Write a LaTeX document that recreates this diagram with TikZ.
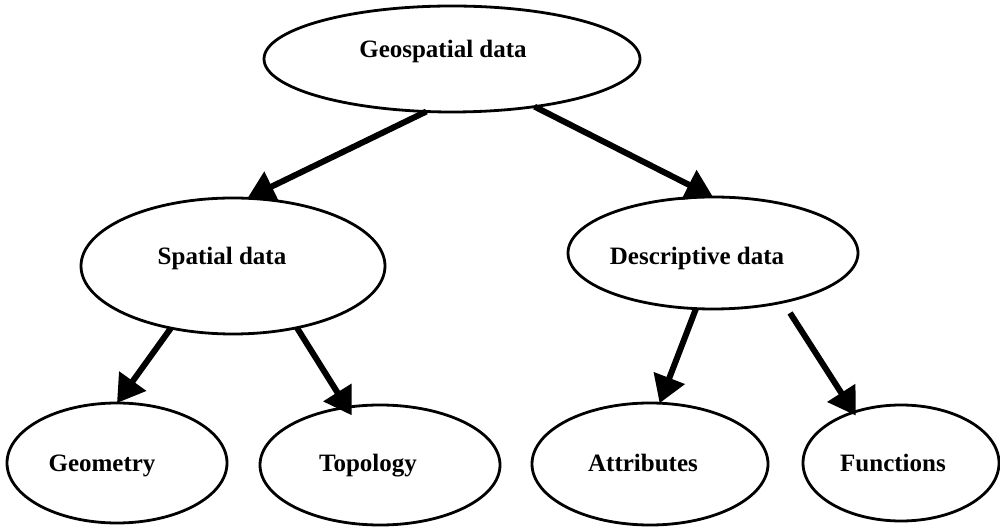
\documentclass[tikz,border=0pt]{standalone}
\usepackage{fontspec}
\setmainfont{Liberation Serif}
\usetikzlibrary{shapes.geometric,arrows.meta}
\begin{document}
\begin{tikzpicture}[x=0.5pt,y=-0.5pt,
  blob/.style={ellipse, draw, line width=1.4pt, inner sep=0pt, outer sep=0pt},
  lbl/.style={font=\fontsize{12.5}{15}\selectfont\bfseries, inner sep=0pt, anchor=base},
  link/.style={line width=3pt, -{Triangle[length=13.5pt,width=16pt]}}]
\useasboundingbox (0,0) rectangle (1000,528);

% ellipses of the hierarchy
\node[blob, minimum width=188pt, minimum height=53pt] (geo)     at (452,59)  {};
\node[blob, minimum width=152pt, minimum height=68pt] (spatial) at (233,266) {};
\node[blob, minimum width=145pt, minimum height=56pt] (desc)    at (713,253) {};
\node[blob, minimum width=110pt, minimum height=60pt] (geom)    at (117,463) {};
\node[blob, minimum width=120pt, minimum height=60pt] (topo)    at (380,465) {};
\node[blob, minimum width=118pt, minimum height=61pt] (attr)    at (650,464) {};
\node[blob, minimum width=98pt,  minimum height=58pt] (func)    at (901,463) {};

% labels
\node[lbl] (geo-t)     at (443,58)  {Geospatial data};
\node[lbl] (spatial-t) at (222,265) {Spatial data};
\node[lbl] (desc-t)    at (697,265) {Descriptive data};
\node[lbl] (geom-t)    at (102,472) {Geometry};
\node[lbl] (topo-t)    at (368,472) {Topology};
\node[lbl] (attr-t)    at (643,472) {Attributes};
\node[lbl] (func-t)    at (893,472) {Functions};

% connectors
\draw[link] (geo.244) -- (spatial.78);
\draw[link] (geo.330) -- (desc.north);
\draw[link] (spatial.225) -- (geom.north);
\draw[link, shorten >=-4.7pt] (spatial.316) -- (topo.120);
\draw[link] (desc.253) -- (attr.81);
\draw[link, shorten <=6.5pt, shorten >=-2pt] (desc.325) -- (func.133);
\end{tikzpicture}
\end{document}
